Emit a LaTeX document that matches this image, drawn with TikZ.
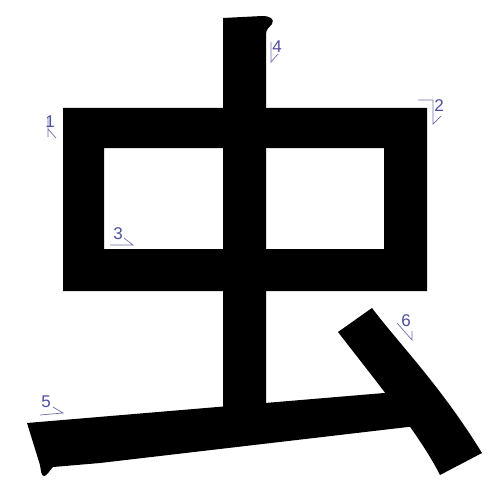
\documentclass[tikz,border=0pt]{standalone}
\usepackage{fontspec}
\setmainfont{Liberation Sans}
\definecolor{labc}{RGB}{78,78,158}
\definecolor{tickc}{RGB}{110,110,175}
\tikzset{
  ink/.style={fill=black,draw=none},
  numlab/.style={text=labc,inner sep=0pt,font=\fontsize{17}{17}\selectfont},
  tick/.style={draw=tickc,line width=0.7pt}
}
\begin{document}
\begin{tikzpicture}[x=1pt,y=-1pt]
\useasboundingbox (0,0) rectangle (500,500);
\fill[white] (0,0) rectangle (500,500);
% strokes 1-3: the frame
\fill[ink,even odd rule] (63,108) rectangle (427,291) (104,148) rectangle (384,249);
% stroke 4: vertical
\fill[ink] (223,18) -- (262,16) .. controls (270,16) and (275,19) .. (272,24)
  .. controls (269,28) and (266,29) .. (266,34) -- (266,412) -- (223,414) -- cycle;
% stroke 5: bottom horizontal
\fill[ink] (27,423) -- (420,390) -- (425,425) -- (100,463) -- (53,467)
  .. controls (49,471) and (47,476) .. (44,476)
  .. controls (41,476) and (41,470) .. (40,465) -- cycle;
% stroke 6: tick
\fill[ink] (338,332) -- (372,308) .. controls (400,345) and (440,385) .. (482,453)
  -- (440,475) .. controls (420,435) and (375,380) .. (338,332) -- cycle;
% labels
\node[numlab] (n1) at (50,122) {1};
\draw[tick] (48,118) -- (48,137) (48,129) -- (56,138);
\node[numlab] (n2) at (439,106) {2};
\draw[tick] (418,100) -- (433,100) -- (433,124) -- (441,116);
\node[numlab] (n3) at (118,234) {3};
\draw[tick] (110,245) -- (133,245) -- (124,238);
\node[numlab] (n4) at (277,47) {4};
\draw[tick] (271,42) -- (271,62) -- (278,54);
\node[numlab] (n5) at (46,402) {5};
\draw[tick] (40,415) -- (63,413) -- (53,407);
\node[numlab] (n6) at (406,321) {6};
\draw[tick] (397,323) -- (412,340) -- (412,331);
\end{tikzpicture}
\end{document}
